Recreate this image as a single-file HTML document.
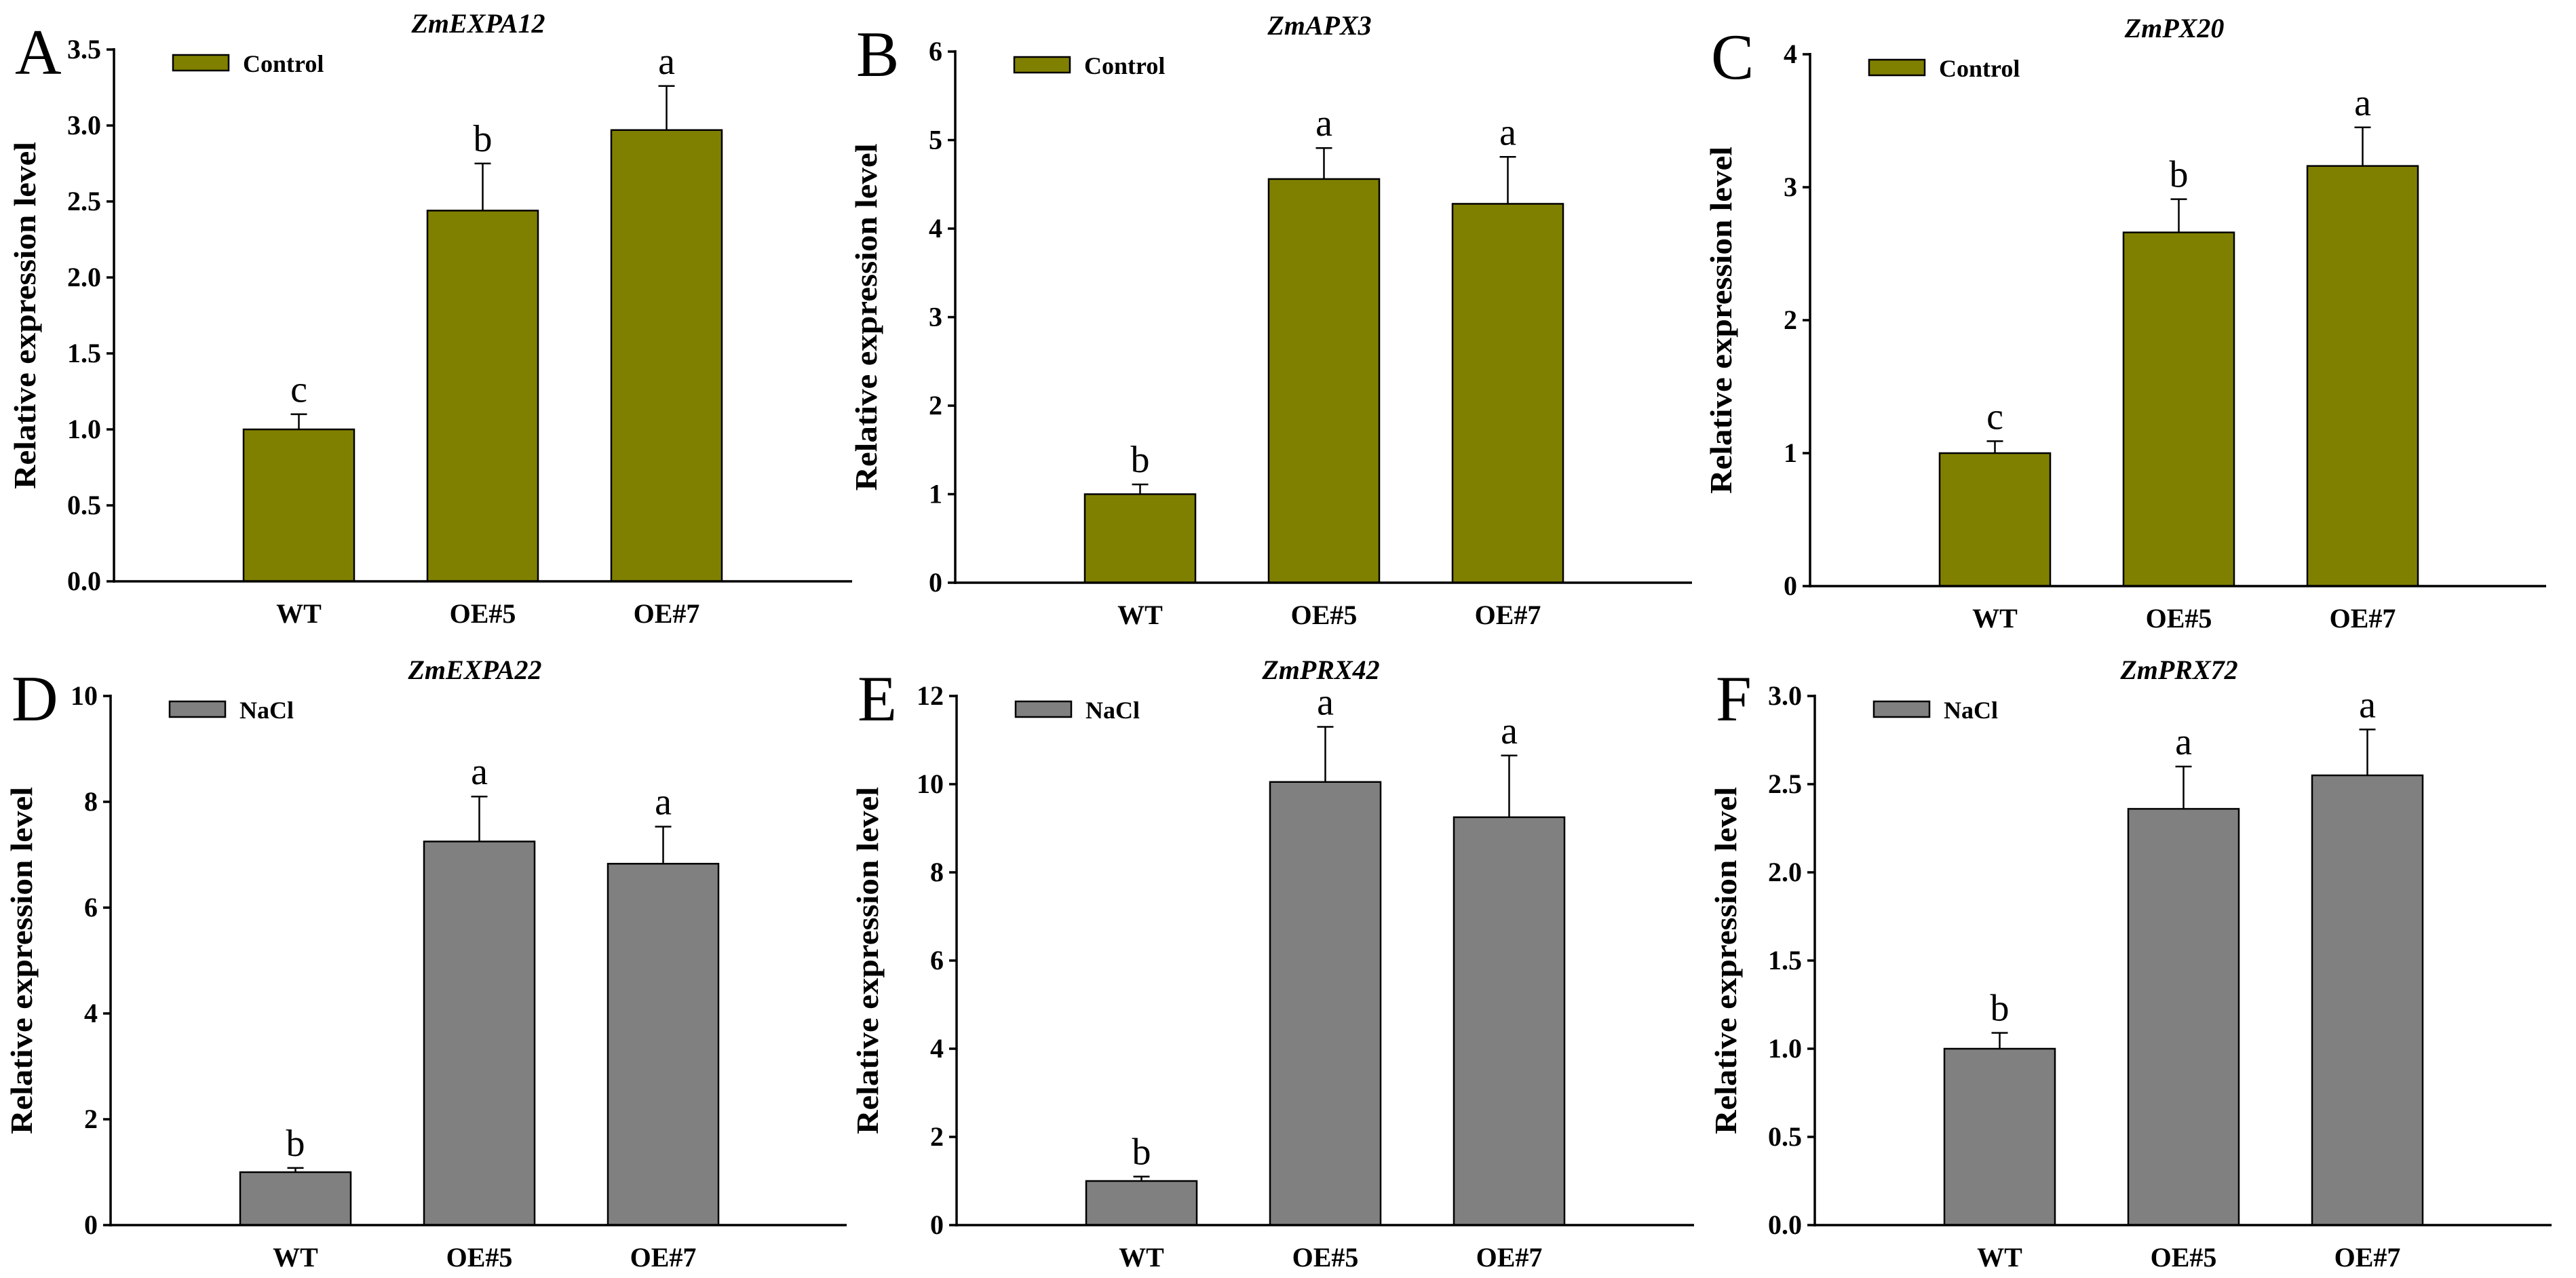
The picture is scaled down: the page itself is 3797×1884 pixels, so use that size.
<!DOCTYPE html>
<html><head><meta charset="utf-8"><style>
html,body{margin:0;padding:0;background:#fff;}
svg{display:block;font-family:"Liberation Serif",serif;}
</style></head><body>
<svg id="fig" width="3797" height="1884" viewBox="0 0 3797 1884" xmlns="http://www.w3.org/2000/svg"></svg>
<script>
const categories = ["WT","OE#5","OE#7"];
const valuesA = [1.0, 2.44, 2.97]; const errA = [0.10, 0.31, 0.29]; const lettersA = ["c","b","a"];
const valuesB = [1.0, 4.56, 4.28]; const errB = [0.11, 0.35, 0.53]; const lettersB = ["b","a","a"];
const valuesC = [1.0, 2.66, 3.16]; const errC = [0.09, 0.25, 0.29]; const lettersC = ["c","b","a"];
const valuesD = [1.0, 7.25, 6.83]; const errD = [0.08, 0.85, 0.70]; const lettersD = ["b","a","a"];
const valuesE = [1.0, 10.05, 9.25]; const errE = [0.10, 1.25, 1.40]; const lettersE = ["b","a","a"];
const valuesF = [1.0, 2.36, 2.55]; const errF = [0.09, 0.24, 0.26]; const lettersF = ["b","a","a"];
const ticksA = ["0.0","0.5","1.0","1.5","2.0","2.5","3.0","3.5"];
const ticksB = ["0","1","2","3","4","5","6"];
const ticksC = ["0","1","2","3","4"];
const ticksD = ["0","2","4","6","8","10"];
const ticksE = ["0","2","4","6","8","10","12"];
const ticksF = ["0.0","0.5","1.0","1.5","2.0","2.5","3.0"];

const NS="http://www.w3.org/2000/svg";
const svg=document.getElementById('fig');
function mk(tag,attrs,parent,text){const e=document.createElementNS(NS,tag);for(const k in attrs)e.setAttribute(k,attrs[k]);if(text!==undefined)e.textContent=text;(parent||svg).appendChild(e);return e;}

const panels=[
 {id:"a",letter:"A",title:"ZmEXPA12",legend:"Control",color:"#808000",ax:168,top:73,zero:857,right:1256,vals:valuesA,errs:errA,lets:lettersA,ticks:ticksA},
 {id:"b",letter:"B",title:"ZmAPX3",legend:"Control",color:"#808000",ax:1408,top:76,zero:859,right:2494,vals:valuesB,errs:errB,lets:lettersB,ticks:ticksB},
 {id:"c",letter:"C",title:"ZmPX20",legend:"Control",color:"#808000",ax:2668,top:80,zero:864,right:3753,vals:valuesC,errs:errC,lets:lettersC,ticks:ticksC},
 {id:"d",letter:"D",title:"ZmEXPA22",legend:"NaCl",color:"#808080",ax:163,top:1026,zero:1806,right:1248,vals:valuesD,errs:errD,lets:lettersD,ticks:ticksD},
 {id:"e",letter:"E",title:"ZmPRX42",legend:"NaCl",color:"#808080",ax:1410,top:1026,zero:1806,right:2497,vals:valuesE,errs:errE,lets:lettersE,ticks:ticksE},
 {id:"f",letter:"F",title:"ZmPRX72",legend:"NaCl",color:"#808080",ax:2675,top:1026,zero:1806,right:3761,vals:valuesF,errs:errF,lets:lettersF,ticks:ticksF}
];

panels.forEach(p=>{
  const g=mk('g',{});
  
  
  const tickNums=p.ticks.map(Number);
  const ymax=tickNums[tickNums.length-1];
  const y=v=>p.zero-(v/ymax)*(p.zero-p.top);
  const xStart=i=>p.ax+191+i*271;
  const bw=163;
  p.vals.forEach((v,i)=>{
    const r=mk('rect',{x:xStart(i),y:y(v),width:bw,height:p.zero-y(v),fill:p.color,stroke:"#000","stroke-width":2.5},g);
    
    
    const cx=xStart(i)+bw/2;
    const eb=mk('g',{},g);
    
    
    const ey=y(v+p.errs[i]);
    mk('line',{x1:cx,y1:y(v),x2:cx,y2:ey,stroke:"#000","stroke-width":2.5},eb);
    mk('line',{x1:cx-12,y1:ey,x2:cx+12,y2:ey,stroke:"#000","stroke-width":2.5},eb);
    const lt=mk('text',{x:cx,y:ey-18,"text-anchor":"middle","font-size":56},g,p.lets[i]);
    
    
    const xl=mk('text',{x:cx,y:p.zero+61,"text-anchor":"middle","font-size":40,"font-weight":"bold"},g,categories[i]);
    
    
  });
  const ya=mk('line',{x1:p.ax,y1:p.top-2,x2:p.ax,y2:p.zero+2,stroke:"#000","stroke-width":3.5},g);
  
  
  const xa=mk('line',{x1:p.ax-2,y1:p.zero,x2:p.right,y2:p.zero,stroke:"#000","stroke-width":3.5},g);
  
  
  p.ticks.forEach((t,k)=>{
    const ty=y(tickNums[k]);
    mk('line',{x1:p.ax-11,y1:ty,x2:p.ax,y2:ty,stroke:"#000","stroke-width":3.5},g);
    const tl=mk('text',{x:p.ax-19,y:ty+13,"text-anchor":"end","font-size":40,"font-weight":"bold"},g,t);
    
    
  });
  const midY=(p.top+p.zero)/2;
  const bx=p.ax-116;
  const yt=mk('text',{x:bx,y:midY,"text-anchor":"middle","font-size":46,"font-weight":"bold",transform:`rotate(-90 ${bx} ${midY})`,textLength:512,lengthAdjust:"spacingAndGlyphs"},g,"Relative expression level");
  
  
  const tt=mk('text',{x:p.ax+537,y:p.top-25,"text-anchor":"middle","font-size":40,"font-weight":"bold","font-style":"italic"},g,p.title);
  
  
  const pl=mk('text',{x:p.ax-146,y:p.top+36,"font-size":95},g,p.letter);
  
  
  const lg=mk('g',{},g);
  
  
  mk('rect',{x:p.ax+87,y:p.top+8,width:82,height:23,fill:p.color,stroke:"#000","stroke-width":2.5},lg);
  mk('text',{x:p.ax+190,y:p.top+33,"font-size":36,"font-weight":"bold"},lg,p.legend);
});
</script>
</body></html>
